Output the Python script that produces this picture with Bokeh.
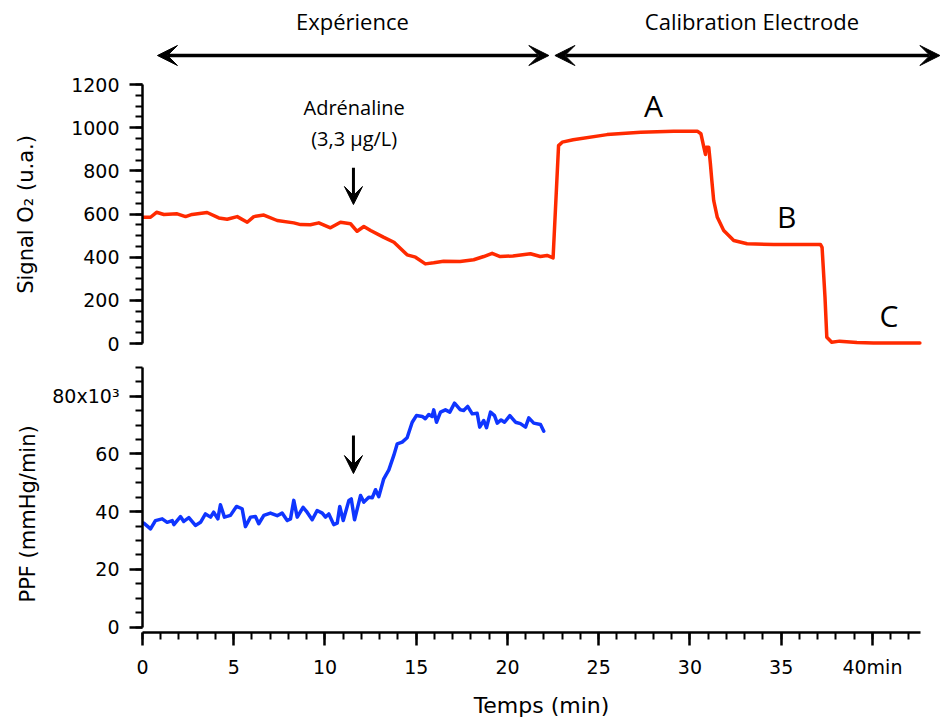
from bokeh.plotting import figure
from bokeh.layouts import column
from bokeh.models import Range1d, FixedTicker, Label, Arrow, VeeHead, Title
from bokeh.embed import file_html
from bokeh.resources import INLINE

# O2 electrode signal (arbitrary units) vs time (min)
o2_time = [0.05, 0.44, 0.77, 1.17, 1.9, 2.36, 2.72, 3.54, 4.18, 4.64,
           5.19, 5.74, 6.1, 6.65, 7.38, 8.29, 8.66, 9.2, 9.66, 10.3,
           10.85, 11.4, 11.76, 12.13, 12.5, 13.2, 13.78, 14.5, 14.96, 15.5,
           15.96, 16.5, 17.4, 18.15, 18.7, 19.16, 19.6, 20.3, 21.26, 21.8,
           22.17, 22.5, 22.8, 23.0, 23.6, 25.46, 27.3, 29.1, 30.4, 30.6,
           30.76, 30.85, 30.89, 31.03, 31.12, 31.2, 31.3, 31.5, 31.85, 32.4,
           33.13, 34.6, 37.15, 37.24, 37.4, 37.5, 37.77, 38.2, 39.15, 40.05,
           42.6]
o2_signal = [585, 585, 608, 598, 601, 588, 598, 607, 582, 576,
             588, 562, 588, 595, 570, 559, 551, 550, 559, 536,
             562, 555, 520, 542, 524, 493, 469, 411, 400, 369,
             374, 381, 380, 388, 403, 418, 403, 406, 416, 403,
             408, 397, 917, 933, 944, 968, 979, 984, 984, 972,
             910, 876, 910, 910, 833, 755, 663, 585, 524, 477,
             462, 459, 459, 446, 215, 29, 6, 11, 5, 2,
             2]

# PPF (x10^3 mmHg/min) vs time (min)
ppf_time = [0.07, 0.44, 0.71, 1.08, 1.35, 1.63, 1.72, 2.08, 2.26, 2.54,
            2.9, 3.18, 3.45, 3.73, 3.9, 4.13, 4.27, 4.49, 4.82, 5.15,
            5.46, 5.64, 5.92, 6.19, 6.37, 6.65, 7.01, 7.38, 7.65, 7.93,
            8.11, 8.29, 8.48, 8.8, 9.02, 9.3, 9.57, 9.85, 10.03, 10.21,
            10.48, 10.67, 10.81, 11.0, 11.31, 11.44, 11.62, 11.95, 12.13, 12.4,
            12.59, 12.77, 12.95, 13.22, 13.5, 13.77, 13.96, 14.23, 14.5, 14.78,
            15.01, 15.33, 15.5, 15.69, 15.87, 15.96, 16.11, 16.33, 16.6, 16.84,
            17.1, 17.42, 17.6, 17.82, 18.07, 18.34, 18.48, 18.7, 18.85, 19.07,
            19.29, 19.44, 19.65, 19.84, 20.13, 20.44, 20.71, 20.99, 21.17, 21.44,
            21.81, 21.99]
ppf_k = [36.0, 34.0, 36.9, 37.5, 36.3, 36.9, 35.5, 38.3, 36.6, 37.9,
         35.2, 36.3, 39.2, 38.1, 39.8, 37.5, 42.4, 38.1, 38.7, 41.8,
         41.0, 34.8, 38.1, 38.3, 35.8, 38.7, 39.5, 38.6, 39.5, 36.9,
         37.5, 43.9, 38.1, 41.5, 39.8, 37.2, 40.4, 39.5, 38.1, 39.2,
         35.5, 36.0, 41.8, 36.9, 43.9, 44.4, 37.2, 45.6, 43.3, 45.0,
         44.8, 47.6, 45.2, 51.4, 54.5, 59.5, 63.5, 64.1, 65.6, 71.0,
         73.3, 73.0, 72.2, 73.7, 73.0, 75.3, 71.0, 74.5, 75.3, 74.5,
         77.6, 75.3, 75.1, 76.5, 73.9, 74.1, 69.3, 71.6, 69.1, 74.5,
         73.3, 70.7, 71.8, 71.0, 73.3, 71.0, 70.5, 69.3, 72.5, 70.7,
         70.2, 67.9]

o2_ticks = [0, 200, 400, 600, 800, 1000, 1200]
o2_minor = list(range(0, 1201, 50))
ppf_ticks = [0, 20, 40, 60, 80]
ppf_minor = list(range(0, 91, 5))
ppf_labels = {0: "0", 20: "20", 40: "40", 60: "60", 80: "80x10\u00b3"}
time_ticks = [0, 5, 10, 15, 20, 25, 30, 35, 40]
time_minor = list(range(0, 43))
time_labels = {40: "40min"}

RED = "#ff2a00"
BLUE = "#0f35ff"
TICK_FONT = "DejaVu Sans"
TEXT_FONT = "Open Sans"
T_END = 43.73  # shared time range, right edge of the page
HEAD_H = 72    # height of the header strip in pixels


def style_axis(ax):
    ax.axis_line_width = 2.5
    ax.axis_line_color = "black"
    ax.major_tick_line_width = 2.5
    ax.minor_tick_line_width = 2
    ax.major_tick_in = 0
    ax.major_tick_out = 13
    ax.minor_tick_in = 0
    ax.minor_tick_out = 7
    ax.major_label_text_font = TICK_FONT
    ax.major_label_text_font_size = "19px"
    ax.major_label_text_color = "black"
    ax.axis_label_text_font = TICK_FONT
    ax.axis_label_text_font_size = "21px"
    ax.axis_label_text_font_style = "normal"
    ax.axis_label_text_color = "black"


def text(fig, x, y, s, size, font=TEXT_FONT):
    fig.add_layout(Label(x=x, y=y, text=s, text_align="center",
                         text_baseline="middle", text_font=font,
                         text_font_size=size, text_color="black"))


def vee(size):
    return VeeHead(size=size, fill_color="black", line_color="black")


def bare(fig):
    fig.outline_line_color = None
    fig.grid.visible = False


# --- header strip: experiment phases (y in pixels from the top) ---
head = figure(width=940, height=HEAD_H,
              x_range=Range1d(0, T_END), y_range=Range1d(HEAD_H, 0),
              x_axis_location=None, y_axis_location=None,
              toolbar_location=None, output_backend="svg",
              min_border_left=142, min_border_right=0,
              min_border_top=0, min_border_bottom=0)
bare(head)
text(head, 11.5, 20, "Expérience", "22px")
text(head, 33.4, 20, "Calibration Electrode", "22px")
for xs, xe in [(0.82, 22.27), (22.6, 43.7)]:
    head.add_layout(Arrow(x_start=xs, y_start=55, x_end=xe, y_end=55,
                          line_width=3.5, line_color="black",
                          start=vee(20), end=vee(20)))

# --- upper panel: O2 signal ---
top = figure(width=940, height=356 - HEAD_H,
             x_range=Range1d(0, T_END), y_range=Range1d(-60.2, 1255.8),
             x_axis_location=None, toolbar_location=None, output_backend="svg",
             min_border_left=142, min_border_right=0,
             min_border_top=0, min_border_bottom=0)
bare(top)
top.line(o2_time, o2_signal, color=RED, line_width=3.5,
         line_join="round", line_cap="round")
ya = top.yaxis[0]
style_axis(ya)
ya.ticker = FixedTicker(ticks=o2_ticks, minor_ticks=o2_minor)
ya.bounds = (0, 1200)
ya.major_label_standoff = 10
ya.axis_label = "Signal O\u2082 (u.a.)"
ya.axis_label_standoff = 30

# adrenaline injection marker
text(top, 11.6, 1093, "Adrénaline", "20px")
text(top, 11.6, 950, "(3,3 µg/L)", "20px")
top.add_layout(Arrow(x_start=11.56, y_start=815, x_end=11.56, y_end=644,
                     line_width=3, line_color="black", end=vee(18)))

# calibration levels
for lx, ly, lt in [(28.0, 1103, "A"), (35.3, 588, "B"), (40.9, 130, "C")]:
    text(top, lx, ly, lt, "30px")

# --- lower panel: PPF ---
bot = figure(width=940, height=364,
             x_range=Range1d(0, T_END), y_range=Range1d(-1.907, 93.79),
             toolbar_location=None, output_backend="svg",
             min_border_left=142, min_border_right=0,
             min_border_top=0, min_border_bottom=88)
bare(bot)
bot.line(ppf_time, ppf_k, color=BLUE, line_width=3.5,
         line_join="round", line_cap="round")
yb = bot.yaxis[0]
style_axis(yb)
yb.ticker = FixedTicker(ticks=ppf_ticks, minor_ticks=ppf_minor)
yb.major_label_overrides = ppf_labels
yb.bounds = (0, 90)
yb.major_label_standoff = 10
# quantity label, starting 30 px above the time axis
bot.add_layout(Title(text="PPF (mmHg/min)", align="left", offset=30, standoff=20,
                     text_font=TICK_FONT, text_font_size="21px",
                     text_font_style="normal", text_color="black"), "left")

xb = bot.xaxis[0]
style_axis(xb)
xb.ticker = FixedTicker(ticks=time_ticks, minor_ticks=time_minor)
xb.major_label_overrides = time_labels
xb.bounds = (-0.1, 42.63)
xb.axis_label = "Temps (min)"
xb.axis_label_text_font_size = "22px"
xb.major_label_standoff = 10
xb.axis_label_standoff = 12

bot.add_layout(Arrow(x_start=11.56, y_start=66.4, x_end=11.56, y_end=53.2,
                     line_width=3, line_color="black", end=vee(18)))

p = column(head, top, bot, spacing=0)
open("out.html", "w").write(file_html(p, INLINE))
